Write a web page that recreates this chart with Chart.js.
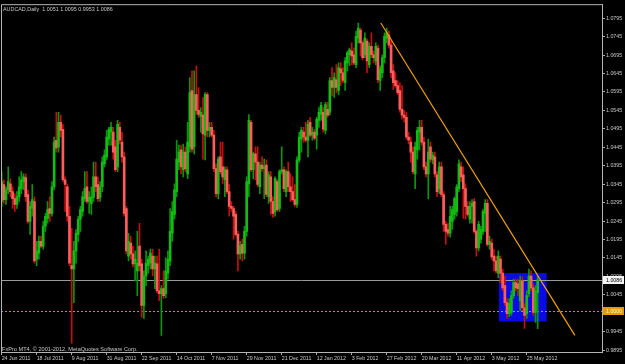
<!DOCTYPE html>
<html>
<head>
<meta charset="utf-8">
<script src="https://cdn.jsdelivr.net/npm/chart.js@4.4.0/dist/chart.umd.min.js"></script>
<style>
  html, body { margin: 0; padding: 0; background: #000; }
  #wrap { position: relative; width: 625px; height: 364px; }
</style>
</head>
<body>
<div id="wrap"><canvas id="chart" width="625" height="364"></canvas></div>
<script>
const symbolName = 'AUDCAD,Daily';
const copyright = 'FxPro MT4, \u00a9 2001-2012, MetaQuotes Software Corp.';

// date labels, one every 16 bars
const dateLabels = ['24 Jun 2011', '18 Jul 2011', '9 Aug 2011', '31 Aug 2011', '22 Sep 2011', '14 Oct 2011',
  '7 Nov 2011', '29 Nov 2011', '21 Dec 2011', '12 Jan 2012', '3 Feb 2012', '27 Feb 2012', '20 Mar 2012',
  '11 Apr 2012', '3 May 2012', '25 May 2012'];
const dateStep = 16;

const yTicks = [0.9895, 0.9945, 0.9995, 1.0045, 1.0095, 1.0145, 1.0195, 1.0245, 1.0295, 1.0345, 1.0395,
  1.0445, 1.0495, 1.0545, 1.0595, 1.0645, 1.0695, 1.0745, 1.0795];

const bidPrice = 1.0086;
const levelPrice = 1.0000;
const trendLine = [[173.3, 1.0782], [262.0, 0.9935]];
const blueBox = [[227.3, 1.0104], [249.1, 0.9973]];

const open = [
1.0298,1.0344,1.0303,1.0330,1.0346,1.0325,1.0306,1.0290,1.0311,1.0333,
1.0352,1.0363,1.0317,1.0244,1.0279,1.0298,1.0142,1.0158,1.0190,1.0177,
1.0231,1.0252,1.0279,1.0266,1.0338,1.0464,1.0446,1.0513,1.0494,1.0357,
1.0338,1.0258,1.0124,1.0115,1.0164,1.0209,1.0250,1.0271,1.0306,1.0338,
1.0298,1.0293,1.0309,1.0365,1.0344,1.0309,1.0338,1.0400,1.0419,1.0467,
1.0486,1.0486,1.0446,1.0392,1.0499,1.0459,1.0419,1.0279,1.0150,1.0185,
1.0156,1.0129,1.0110,1.0177,1.0129,1.0016,1.0096,1.0124,1.0131,1.0150,
1.0115,1.0129,1.0056,1.0048,1.0062,1.0048,1.0104,1.0137,1.0212,1.0263,
1.0325,1.0405,1.0438,1.0384,1.0432,1.0373,1.0446,1.0599,1.0446,1.0588,
1.0545,1.0529,1.0532,1.0478,1.0588,1.0491,1.0499,1.0478,1.0387,1.0319,
1.0419,1.0392,1.0357,1.0384,1.0325,1.0285,1.0279,1.0263,1.0209,1.0156,
1.0182,1.0158,1.0217,1.0346,1.0513,1.0384,1.0427,1.0405,1.0338,1.0397,
1.0387,1.0397,1.0311,1.0365,1.0298,1.0271,1.0352,1.0279,1.0379,1.0384,
1.0325,1.0379,1.0338,1.0325,1.0303,1.0290,1.0411,1.0467,1.0486,1.0473,
1.0464,1.0513,1.0478,1.0486,1.0478,1.0518,1.0534,1.0540,1.0491,1.0548,
1.0540,1.0626,1.0607,1.0628,1.0599,1.0658,1.0647,1.0620,1.0674,1.0696,
1.0706,1.0696,1.0669,1.0741,1.0763,1.0728,1.0696,1.0733,1.0669,1.0719,
1.0696,1.0679,1.0714,1.0626,1.0647,1.0688,1.0741,1.0749,1.0722,1.0652,
1.0626,1.0612,1.0599,1.0548,1.0532,1.0526,1.0473,1.0459,1.0432,1.0373,
1.0438,1.0486,1.0499,1.0459,1.0392,1.0373,1.0446,1.0411,1.0419,1.0370,
1.0333,1.0392,1.0317,1.0236,1.0222,1.0212,1.0244,1.0263,1.0271,1.0333,
1.0392,1.0370,1.0333,1.0285,1.0250,1.0285,1.0298,1.0217,1.0172,1.0196,
1.0217,1.0266,1.0293,1.0182,1.0185,1.0150,1.0137,1.0104,1.0142,1.0104,
1.0070,1.0024,0.9994,0.9997,1.0043,1.0078,1.0075,1.0029,1.0083,1.0010,
0.9994,1.0048,1.0096,1.0064,0.9997,1.0051];

const high = [
1.0379,1.0357,1.0338,1.0392,1.0360,1.0338,1.0319,1.0325,1.0365,1.0379,
1.0373,1.0373,1.0330,1.0298,1.0344,1.0311,1.0190,1.0204,1.0204,1.0244,
1.0266,1.0298,1.0311,1.0352,1.0473,1.0540,1.0540,1.0532,1.0507,1.0365,
1.0344,1.0285,1.0225,1.0190,1.0222,1.0258,1.0285,1.0325,1.0379,1.0379,
1.0325,1.0338,1.0405,1.0405,1.0365,1.0352,1.0419,1.0438,1.0491,1.0499,
1.0513,1.0499,1.0464,1.0518,1.0513,1.0486,1.0432,1.0285,1.0212,1.0204,
1.0177,1.0164,1.0217,1.0239,1.0142,1.0110,1.0164,1.0150,1.0169,1.0169,
1.0150,1.0150,1.0169,1.0070,1.0110,1.0145,1.0164,1.0279,1.0298,1.0346,
1.0464,1.0451,1.0451,1.0454,1.0446,1.0513,1.0634,1.0652,1.0652,1.0666,
1.0607,1.0553,1.0580,1.0593,1.0593,1.0513,1.0513,1.0491,1.0400,1.0419,
1.0459,1.0459,1.0392,1.0392,1.0344,1.0298,1.0285,1.0271,1.0217,1.0190,
1.0196,1.0231,1.0365,1.0534,1.0518,1.0432,1.0446,1.0446,1.0405,1.0419,
1.0413,1.0411,1.0379,1.0379,1.0311,1.0365,1.0357,1.0384,1.0446,1.0392,
1.0384,1.0405,1.0373,1.0365,1.0344,1.0419,1.0486,1.0499,1.0499,1.0513,
1.0518,1.0526,1.0499,1.0494,1.0526,1.0553,1.0567,1.0553,1.0567,1.0567,
1.0634,1.0661,1.0647,1.0669,1.0674,1.0674,1.0661,1.0688,1.0706,1.0714,
1.0728,1.0714,1.0760,1.0782,1.0768,1.0733,1.0755,1.0739,1.0728,1.0755,
1.0706,1.0728,1.0722,1.0666,1.0696,1.0755,1.0768,1.0760,1.0733,1.0669,
1.0647,1.0626,1.0620,1.0612,1.0545,1.0540,1.0486,1.0473,1.0446,1.0459,
1.0499,1.0518,1.0518,1.0473,1.0405,1.0467,1.0459,1.0432,1.0432,1.0379,
1.0405,1.0405,1.0325,1.0244,1.0239,1.0285,1.0285,1.0311,1.0344,1.0411,
1.0405,1.0392,1.0346,1.0298,1.0298,1.0303,1.0306,1.0222,1.0244,1.0231,
1.0276,1.0303,1.0303,1.0204,1.0196,1.0169,1.0150,1.0164,1.0150,1.0115,
1.0096,1.0035,1.0035,1.0056,1.0088,1.0088,1.0088,1.0096,1.0094,1.0021,
1.0056,1.0115,1.0110,1.0075,1.0070,1.0095];

const low = [
1.0285,1.0293,1.0290,1.0319,1.0311,1.0279,1.0271,1.0279,1.0298,1.0319,
1.0330,1.0298,1.0239,1.0209,1.0258,1.0131,1.0124,1.0142,1.0172,1.0169,
1.0217,1.0239,1.0244,1.0258,1.0330,1.0432,1.0432,1.0473,1.0352,1.0271,
1.0244,1.0124,0.9914,1.0024,1.0131,1.0190,1.0217,1.0258,1.0298,1.0293,
1.0266,1.0263,1.0298,1.0325,1.0298,1.0298,1.0325,1.0392,1.0411,1.0451,
1.0451,1.0413,1.0379,1.0379,1.0454,1.0405,1.0258,1.0156,1.0137,1.0142,
1.0121,1.0083,1.0043,1.0110,0.9984,0.9981,1.0070,1.0104,1.0115,1.0096,
1.0062,1.0051,1.0029,0.9935,1.0035,1.0037,1.0088,1.0124,1.0190,1.0250,
1.0311,1.0384,1.0373,1.0365,1.0379,1.0360,1.0432,1.0432,1.0427,1.0534,
1.0526,1.0486,1.0413,1.0411,1.0473,1.0473,1.0473,1.0379,1.0311,1.0306,
1.0373,1.0346,1.0311,1.0319,1.0258,1.0271,1.0196,1.0204,1.0110,1.0142,
1.0137,1.0142,1.0204,1.0311,1.0379,1.0360,1.0357,1.0338,1.0319,1.0379,
1.0306,1.0311,1.0293,1.0263,1.0255,1.0258,1.0271,1.0271,1.0373,1.0325,
1.0311,1.0325,1.0298,1.0298,1.0285,1.0282,1.0405,1.0432,1.0459,1.0459,
1.0419,1.0473,1.0464,1.0464,1.0440,1.0499,1.0518,1.0486,1.0481,1.0526,
1.0532,1.0585,1.0580,1.0593,1.0588,1.0612,1.0620,1.0599,1.0652,1.0666,
1.0669,1.0669,1.0661,1.0728,1.0693,1.0682,1.0688,1.0647,1.0661,1.0688,
1.0674,1.0669,1.0620,1.0599,1.0634,1.0674,1.0728,1.0714,1.0634,1.0601,
1.0607,1.0588,1.0540,1.0521,1.0513,1.0467,1.0454,1.0405,1.0373,1.0333,
1.0413,1.0438,1.0451,1.0384,1.0365,1.0306,1.0405,1.0400,1.0365,1.0311,
1.0319,1.0311,1.0217,1.0182,1.0204,1.0201,1.0222,1.0250,1.0258,1.0325,
1.0352,1.0252,1.0250,1.0258,1.0239,1.0239,1.0212,1.0150,1.0164,1.0185,
1.0209,1.0217,1.0177,1.0169,1.0142,1.0110,1.0104,1.0091,1.0078,1.0056,
1.0016,0.9981,0.9986,0.9989,1.0035,1.0056,1.0043,1.0002,1.0002,0.9954,
0.9981,1.0040,1.0056,0.9989,0.9970,0.9953];

const close = [
1.0352,1.0303,1.0330,1.0352,1.0325,1.0306,1.0290,1.0311,1.0338,1.0357,
1.0365,1.0311,1.0244,1.0285,1.0303,1.0137,1.0164,1.0190,1.0177,1.0231,
1.0258,1.0276,1.0266,1.0338,1.0459,1.0443,1.0513,1.0491,1.0357,1.0344,
1.0258,1.0131,1.0115,1.0164,1.0212,1.0250,1.0276,1.0311,1.0333,1.0298,
1.0309,1.0311,1.0365,1.0338,1.0306,1.0338,1.0405,1.0424,1.0473,1.0494,
1.0499,1.0432,1.0384,1.0507,1.0464,1.0419,1.0266,1.0164,1.0190,1.0156,
1.0129,1.0142,1.0131,1.0124,1.0016,1.0096,1.0131,1.0142,1.0158,1.0115,
1.0131,1.0056,1.0048,1.0062,1.0043,1.0110,1.0142,1.0217,1.0271,1.0330,
1.0413,1.0432,1.0392,1.0432,1.0387,1.0459,1.0593,1.0440,1.0588,1.0545,
1.0534,1.0540,1.0481,1.0588,1.0491,1.0499,1.0478,1.0387,1.0319,1.0413,
1.0379,1.0365,1.0384,1.0325,1.0285,1.0279,1.0258,1.0209,1.0156,1.0177,
1.0158,1.0217,1.0352,1.0518,1.0384,1.0427,1.0405,1.0344,1.0397,1.0387,
1.0392,1.0317,1.0370,1.0298,1.0266,1.0360,1.0276,1.0379,1.0384,1.0333,
1.0379,1.0338,1.0325,1.0303,1.0290,1.0411,1.0473,1.0491,1.0473,1.0464,
1.0507,1.0478,1.0486,1.0470,1.0521,1.0540,1.0559,1.0494,1.0561,1.0532,
1.0626,1.0607,1.0634,1.0607,1.0661,1.0647,1.0626,1.0679,1.0701,1.0709,
1.0693,1.0674,1.0746,1.0768,1.0728,1.0688,1.0741,1.0679,1.0719,1.0696,
1.0688,1.0719,1.0628,1.0658,1.0688,1.0746,1.0755,1.0722,1.0647,1.0620,
1.0612,1.0593,1.0548,1.0532,1.0526,1.0473,1.0464,1.0432,1.0379,1.0446,
1.0491,1.0499,1.0459,1.0392,1.0373,1.0432,1.0413,1.0424,1.0373,1.0325,
1.0392,1.0317,1.0236,1.0217,1.0212,1.0258,1.0276,1.0306,1.0338,1.0400,
1.0365,1.0333,1.0285,1.0263,1.0285,1.0293,1.0217,1.0172,1.0236,1.0222,
1.0271,1.0293,1.0182,1.0190,1.0148,1.0137,1.0110,1.0150,1.0104,1.0064,
1.0024,0.9994,1.0021,1.0043,1.0078,1.0064,1.0062,1.0083,1.0010,0.9989,
1.0043,1.0096,1.0064,0.9997,1.0056,1.0086];

const FONT = 'Liberation Sans';
Chart.defaults.font.family = FONT;

const upBody = '#14bb14', upWick = '#0a960a';
const downBody = '#ff5c5c', downWick = '#c41010';
const isUp = close.map((c, i) => c >= open[i]);

const last = close.length - 1;
const headerText = symbolName + '  ' + open[last].toFixed(4) + ' ' + high[last].toFixed(4) + ' ' +
  low[last].toFixed(4) + ' ' + close[last].toFixed(4);

const mtObjects = {
  id: 'mtObjects',
  beforeDatasetsDraw(chart) {
    const { ctx, chartArea: a, scales: { x, y } } = chart;
    ctx.save();
    ctx.beginPath();
    ctx.rect(a.left, a.top, a.right - a.left, a.bottom - a.top);
    ctx.clip();
    // blue rectangle
    const bx1 = x.getPixelForValue(blueBox[0][0]), bx2 = x.getPixelForValue(blueBox[1][0]);
    const by1 = y.getPixelForValue(blueBox[0][1]), by2 = y.getPixelForValue(blueBox[1][1]);
    ctx.fillStyle = '#0a0ae6';
    ctx.fillRect(bx1, by1, bx2 - bx1, by2 - by1);
    // bid line
    const yb = Math.round(y.getPixelForValue(bidPrice)) + 0.5;
    ctx.strokeStyle = '#9a9a9a';
    ctx.lineWidth = 1;
    ctx.beginPath(); ctx.moveTo(a.left, yb); ctx.lineTo(a.right, yb); ctx.stroke();
    // dotted level
    const yl = Math.round(y.getPixelForValue(levelPrice)) + 0.5;
    ctx.strokeStyle = '#d88a00';
    ctx.setLineDash([2, 2]);
    ctx.beginPath(); ctx.moveTo(a.left, yl); ctx.lineTo(a.right, yl); ctx.stroke();
    ctx.restore();
  },
  afterDatasetsDraw(chart) {
    const { ctx, chartArea: a, scales: { x, y } } = chart;
    ctx.save();
    ctx.beginPath();
    ctx.rect(a.left, a.top, a.right - a.left, a.bottom - a.top);
    ctx.clip();
    ctx.strokeStyle = '#f0a000';
    ctx.lineWidth = 1.2;
    ctx.beginPath();
    ctx.moveTo(x.getPixelForValue(trendLine[0][0]), y.getPixelForValue(trendLine[0][1]));
    ctx.lineTo(x.getPixelForValue(trendLine[1][0]), y.getPixelForValue(trendLine[1][1]));
    ctx.stroke();
    ctx.restore();
  },
  afterDraw(chart) {
    const { ctx, chartArea: a, scales: { y } } = chart;
    ctx.save();
    // frame top/left
    ctx.strokeStyle = '#b4b4b4';
    ctx.lineWidth = 1;
    ctx.beginPath();
    ctx.moveTo(a.left + 0.5, a.bottom); ctx.lineTo(a.left + 0.5, a.top + 0.5); ctx.lineTo(a.right, a.top + 0.5);
    ctx.stroke();
    // texts
    ctx.font = '5.4px "' + FONT + '"';
    ctx.fillStyle = '#c8c8c8';
    ctx.textBaseline = 'alphabetic';
    ctx.textAlign = 'left';
    ctx.fillText(headerText, a.left + 2, a.top + 7);
    ctx.font = '5.6px "' + FONT + '"';
    ctx.fillText(copyright, a.left + 1, a.bottom - 1);
    // price tags
    const tag = (price, bg, fg) => {
      const py = Math.round(y.getPixelForValue(price));
      ctx.fillStyle = bg;
      ctx.fillRect(a.right + 1, py - 4, 21, 8);
      ctx.fillStyle = fg;
      ctx.font = '5.3px "' + FONT + '"';
      ctx.textBaseline = 'middle';
      ctx.fillText(price.toFixed(4), a.right + 4, py + 0.5);
    };
    tag(bidPrice, '#f4f4f4', '#000000');
    tag(levelPrice, '#e89a00', '#fff4dc');
    ctx.restore();
  }
};

new Chart(document.getElementById('chart'), {
  type: 'bar',
  data: {
    datasets: [
      {
        label: 'body',
        order: 0,
        data: open.map((o, i) => ({ x: i, y: [o, close[i]] })),
        backgroundColor: isUp.map(u => u ? upBody : downBody),
        barThickness: 2,
        minBarLength: 1,
        grouped: false
      },
      {
        label: 'wick',
        order: 1,
        data: low.map((l, i) => ({ x: i, y: [l, high[i]] })),
        backgroundColor: isUp.map(u => u ? upWick : downWick),
        barThickness: 1,
        grouped: false
      }
    ]
  },
  options: {
    responsive: false,
    animation: false,
    layout: { padding: { top: 1, left: 1, right: 0, bottom: 0 } },
    plugins: { legend: { display: false }, tooltip: { enabled: false } },
    scales: {
      x: {
        type: 'linear',
        offset: false,
        min: -0.3,
        max: 274.4,
        afterFit(s) { s.height = 12; },
        afterBuildTicks(s) { s.ticks = dateLabels.map((_, k) => ({ value: k * dateStep })); },
        ticks: {
          align: 'start',
          color: '#c8c8c8',
          font: { size: 5.3 },
          padding: 0,
          maxRotation: 0,
          autoSkip: false,
          callback: v => dateLabels[Math.round(v / dateStep)]
        },
        grid: { offset: false, drawOnChartArea: false, drawTicks: true, tickLength: 3, color: '#a8a8a8' },
        border: { color: '#b4b4b4' }
      },
      y: {
        position: 'right',
        min: 0.9890,
        max: 1.0833,
        afterFit(s) { s.width = 23; },
        afterBuildTicks(s) { s.ticks = yTicks.map(v => ({ value: v })); },
        ticks: {
          color: '#c8c8c8',
          font: { size: 5.3 },
          padding: 1,
          autoSkip: false,
          callback: v => Number(v).toFixed(4)
        },
        grid: { drawOnChartArea: false, drawTicks: true, tickLength: 3, color: '#a8a8a8' },
        border: { color: '#b4b4b4' }
      }
    }
  },
  plugins: [mtObjects]
});
</script>
</body>
</html>
